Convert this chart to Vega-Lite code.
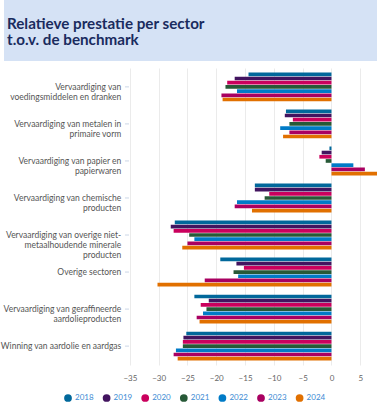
{
  "$schema": "https://vega.github.io/schema/vega-lite/v6.json",
  "padding": 0,
  "spacing": 7,
  "config": {"font": "Lato", "view": {"stroke": null}},
  "resolve": {"scale": {"x": "independent", "y": "independent"}},
  "datasets": {
    "sectors": [
      {"sector": "Vervaardiging van voedingsmiddelen en dranken", "label": "Vervaardiging van|voedingsmiddelen en dranken"},
      {"sector": "Vervaardiging van metalen in primaire vorm", "label": "Vervaardiging van metalen in|primaire vorm"},
      {"sector": "Vervaardiging van papier en papierwaren", "label": "Vervaardiging van papier en|papierwaren"},
      {"sector": "Vervaardiging van chemische producten", "label": "Vervaardiging van chemische|producten"},
      {"sector": "Vervaardiging van overige niet-metaalhoudende minerale producten", "label": "Vervaardiging van overige niet-|metaalhoudende minerale|producten"},
      {"sector": "Overige sectoren", "label": "Overige sectoren"},
      {"sector": "Vervaardiging van geraffineerde aardolieproducten", "label": "Vervaardiging van geraffineerde|aardolieproducten"},
      {"sector": "Winning van aardolie en aardgas", "label": "Winning van aardolie en aardgas"}
    ],
    "values": [
      {"sector": "Vervaardiging van voedingsmiddelen en dranken", "year": "2018", "value": -14.4},
      {"sector": "Vervaardiging van voedingsmiddelen en dranken", "year": "2019", "value": -16.8},
      {"sector": "Vervaardiging van voedingsmiddelen en dranken", "year": "2020", "value": -18.1},
      {"sector": "Vervaardiging van voedingsmiddelen en dranken", "year": "2021", "value": -18.4},
      {"sector": "Vervaardiging van voedingsmiddelen en dranken", "year": "2022", "value": -16.4},
      {"sector": "Vervaardiging van voedingsmiddelen en dranken", "year": "2023", "value": -19.1},
      {"sector": "Vervaardiging van voedingsmiddelen en dranken", "year": "2024", "value": -18.9},
      {"sector": "Vervaardiging van metalen in primaire vorm", "year": "2018", "value": -7.9},
      {"sector": "Vervaardiging van metalen in primaire vorm", "year": "2019", "value": -8.1},
      {"sector": "Vervaardiging van metalen in primaire vorm", "year": "2020", "value": -6.7},
      {"sector": "Vervaardiging van metalen in primaire vorm", "year": "2021", "value": -7.3},
      {"sector": "Vervaardiging van metalen in primaire vorm", "year": "2022", "value": -8.9},
      {"sector": "Vervaardiging van metalen in primaire vorm", "year": "2023", "value": -7.3},
      {"sector": "Vervaardiging van metalen in primaire vorm", "year": "2024", "value": -8.4},
      {"sector": "Vervaardiging van papier en papierwaren", "year": "2018", "value": -0.35},
      {"sector": "Vervaardiging van papier en papierwaren", "year": "2019", "value": -1.7},
      {"sector": "Vervaardiging van papier en papierwaren", "year": "2020", "value": -2.1},
      {"sector": "Vervaardiging van papier en papierwaren", "year": "2021", "value": -1.0},
      {"sector": "Vervaardiging van papier en papierwaren", "year": "2022", "value": 3.8},
      {"sector": "Vervaardiging van papier en papierwaren", "year": "2023", "value": 5.8},
      {"sector": "Vervaardiging van papier en papierwaren", "year": "2024", "value": 8.1},
      {"sector": "Vervaardiging van chemische producten", "year": "2018", "value": -13.3},
      {"sector": "Vervaardiging van chemische producten", "year": "2019", "value": -13.3},
      {"sector": "Vervaardiging van chemische producten", "year": "2020", "value": -10.8},
      {"sector": "Vervaardiging van chemische producten", "year": "2021", "value": -11.6},
      {"sector": "Vervaardiging van chemische producten", "year": "2022", "value": -16.4},
      {"sector": "Vervaardiging van chemische producten", "year": "2023", "value": -16.8},
      {"sector": "Vervaardiging van chemische producten", "year": "2024", "value": -13.8},
      {"sector": "Vervaardiging van overige niet-metaalhoudende minerale producten", "year": "2018", "value": -27.2},
      {"sector": "Vervaardiging van overige niet-metaalhoudende minerale producten", "year": "2019", "value": -27.9},
      {"sector": "Vervaardiging van overige niet-metaalhoudende minerale producten", "year": "2020", "value": -27.4},
      {"sector": "Vervaardiging van overige niet-metaalhoudende minerale producten", "year": "2021", "value": -24.7},
      {"sector": "Vervaardiging van overige niet-metaalhoudende minerale producten", "year": "2022", "value": -23.8},
      {"sector": "Vervaardiging van overige niet-metaalhoudende minerale producten", "year": "2023", "value": -25.0},
      {"sector": "Vervaardiging van overige niet-metaalhoudende minerale producten", "year": "2024", "value": -25.9},
      {"sector": "Overige sectoren", "year": "2018", "value": -19.3},
      {"sector": "Overige sectoren", "year": "2019", "value": -16.5},
      {"sector": "Overige sectoren", "year": "2020", "value": -15.2},
      {"sector": "Overige sectoren", "year": "2021", "value": -17.0},
      {"sector": "Overige sectoren", "year": "2022", "value": -16.2},
      {"sector": "Overige sectoren", "year": "2023", "value": -22.0},
      {"sector": "Overige sectoren", "year": "2024", "value": -30.2},
      {"sector": "Vervaardiging van geraffineerde aardolieproducten", "year": "2018", "value": -23.8},
      {"sector": "Vervaardiging van geraffineerde aardolieproducten", "year": "2019", "value": -21.3},
      {"sector": "Vervaardiging van geraffineerde aardolieproducten", "year": "2020", "value": -22.7},
      {"sector": "Vervaardiging van geraffineerde aardolieproducten", "year": "2021", "value": -21.7},
      {"sector": "Vervaardiging van geraffineerde aardolieproducten", "year": "2022", "value": -22.3},
      {"sector": "Vervaardiging van geraffineerde aardolieproducten", "year": "2023", "value": -23.4},
      {"sector": "Vervaardiging van geraffineerde aardolieproducten", "year": "2024", "value": -22.9},
      {"sector": "Winning van aardolie en aardgas", "year": "2018", "value": -25.2},
      {"sector": "Winning van aardolie en aardgas", "year": "2019", "value": -25.7},
      {"sector": "Winning van aardolie en aardgas", "year": "2020", "value": -25.8},
      {"sector": "Winning van aardolie en aardgas", "year": "2021", "value": -25.8},
      {"sector": "Winning van aardolie en aardgas", "year": "2022", "value": -27.0},
      {"sector": "Winning van aardolie en aardgas", "year": "2023", "value": -27.4},
      {"sector": "Winning van aardolie en aardgas", "year": "2024", "value": -26.7}
    ]
  },
  "vconcat": [
    {
      "width": 377,
      "height": 61,
      "view": {"fill": "#D5E2F5", "stroke": null},
      "data": {"values": [{"title": "Relatieve prestatie per sector|t.o.v. de benchmark"}]},
      "mark": {"type": "text", "lineBreak": "|", "align": "left", "baseline": "alphabetic", "fontSize": 15.2, "fontWeight": "bold", "color": "#1A2B5E", "lineHeight": 16, "dx": 3},
      "encoding": {
        "text": {"field": "title"},
        "x": {"datum": 0, "type": "quantitative", "scale": {"domain": [0, 1]}, "axis": null},
        "y": {"datum": 0.525, "type": "quantitative", "scale": {"domain": [0, 1]}, "axis": null}
      }
    },
    {
      "width": 377,
      "height": 297,
      "encoding": {
        "y": {
          "field": "sector",
          "type": "nominal",
          "sort": [
            "Vervaardiging van voedingsmiddelen en dranken",
            "Vervaardiging van metalen in primaire vorm",
            "Vervaardiging van papier en papierwaren",
            "Vervaardiging van chemische producten",
            "Vervaardiging van overige niet-metaalhoudende minerale producten",
            "Overige sectoren",
            "Vervaardiging van geraffineerde aardolieproducten",
            "Winning van aardolie en aardgas"
          ],
          "scale": {"paddingInner": 0.22, "paddingOuter": 0.12},
          "axis": null
        }
      },
      "layer": [
        {
          "data": {"name": "values"},
          "mark": {"type": "bar"},
          "encoding": {
            "yOffset": {"field": "year", "type": "nominal", "scale": {"paddingInner": 0.12}},
            "x": {
              "field": "value",
              "type": "quantitative",
              "scale": {"domain": [-56.85, 8.6], "nice": false, "zero": false},
              "axis": {
                "title": null,
                "values": [-35, -30, -25, -20, -15, -10, -5, 0, 5],
                "domain": false,
                "ticks": false,
                "grid": true,
                "gridColor": "#EBEBEB",
                "labelPadding": 9,
                "labelFontSize": 8,
                "labelColor": "#666666"
              }
            },
            "x2": {"datum": 0},
            "color": {
              "field": "year",
              "type": "nominal",
              "scale": {
                "domain": ["2018", "2019", "2020", "2021", "2022", "2023", "2024"],
                "range": ["#01689B", "#42145F", "#CA005D", "#275937", "#007BC7", "#A90061", "#E17000"]
              },
              "legend": {
                "title": null,
                "orient": "none",
                "legendX": 60,
                "legendY": 394,
                "direction": "horizontal",
                "symbolType": "circle",
                "symbolSize": 60,
                "symbolStrokeWidth": 0,
                "labelFontSize": 8,
                "labelColor": "#3D8BD4",
                "labelOffset": 3,
                "columnPadding": 8.6,
                "padding": 0
              }
            }
          }
        },
        {
          "data": {"name": "sectors"},
          "mark": {"type": "rule", "color": "#CBD6E6", "strokeWidth": 1},
          "encoding": {
            "x": {"datum": -35.85, "type": "quantitative"},
            "x2": {"datum": -35.15}
          }
        },
        {
          "data": {"name": "sectors"},
          "mark": {"type": "text", "lineBreak": "|", "align": "right", "baseline": "middle", "fontSize": 8.5, "color": "#555555", "lineHeight": 10},
          "encoding": {
            "text": {"field": "label"},
            "x": {"datum": -36.49, "type": "quantitative"}
          }
        }
      ]
    }
  ]
}
